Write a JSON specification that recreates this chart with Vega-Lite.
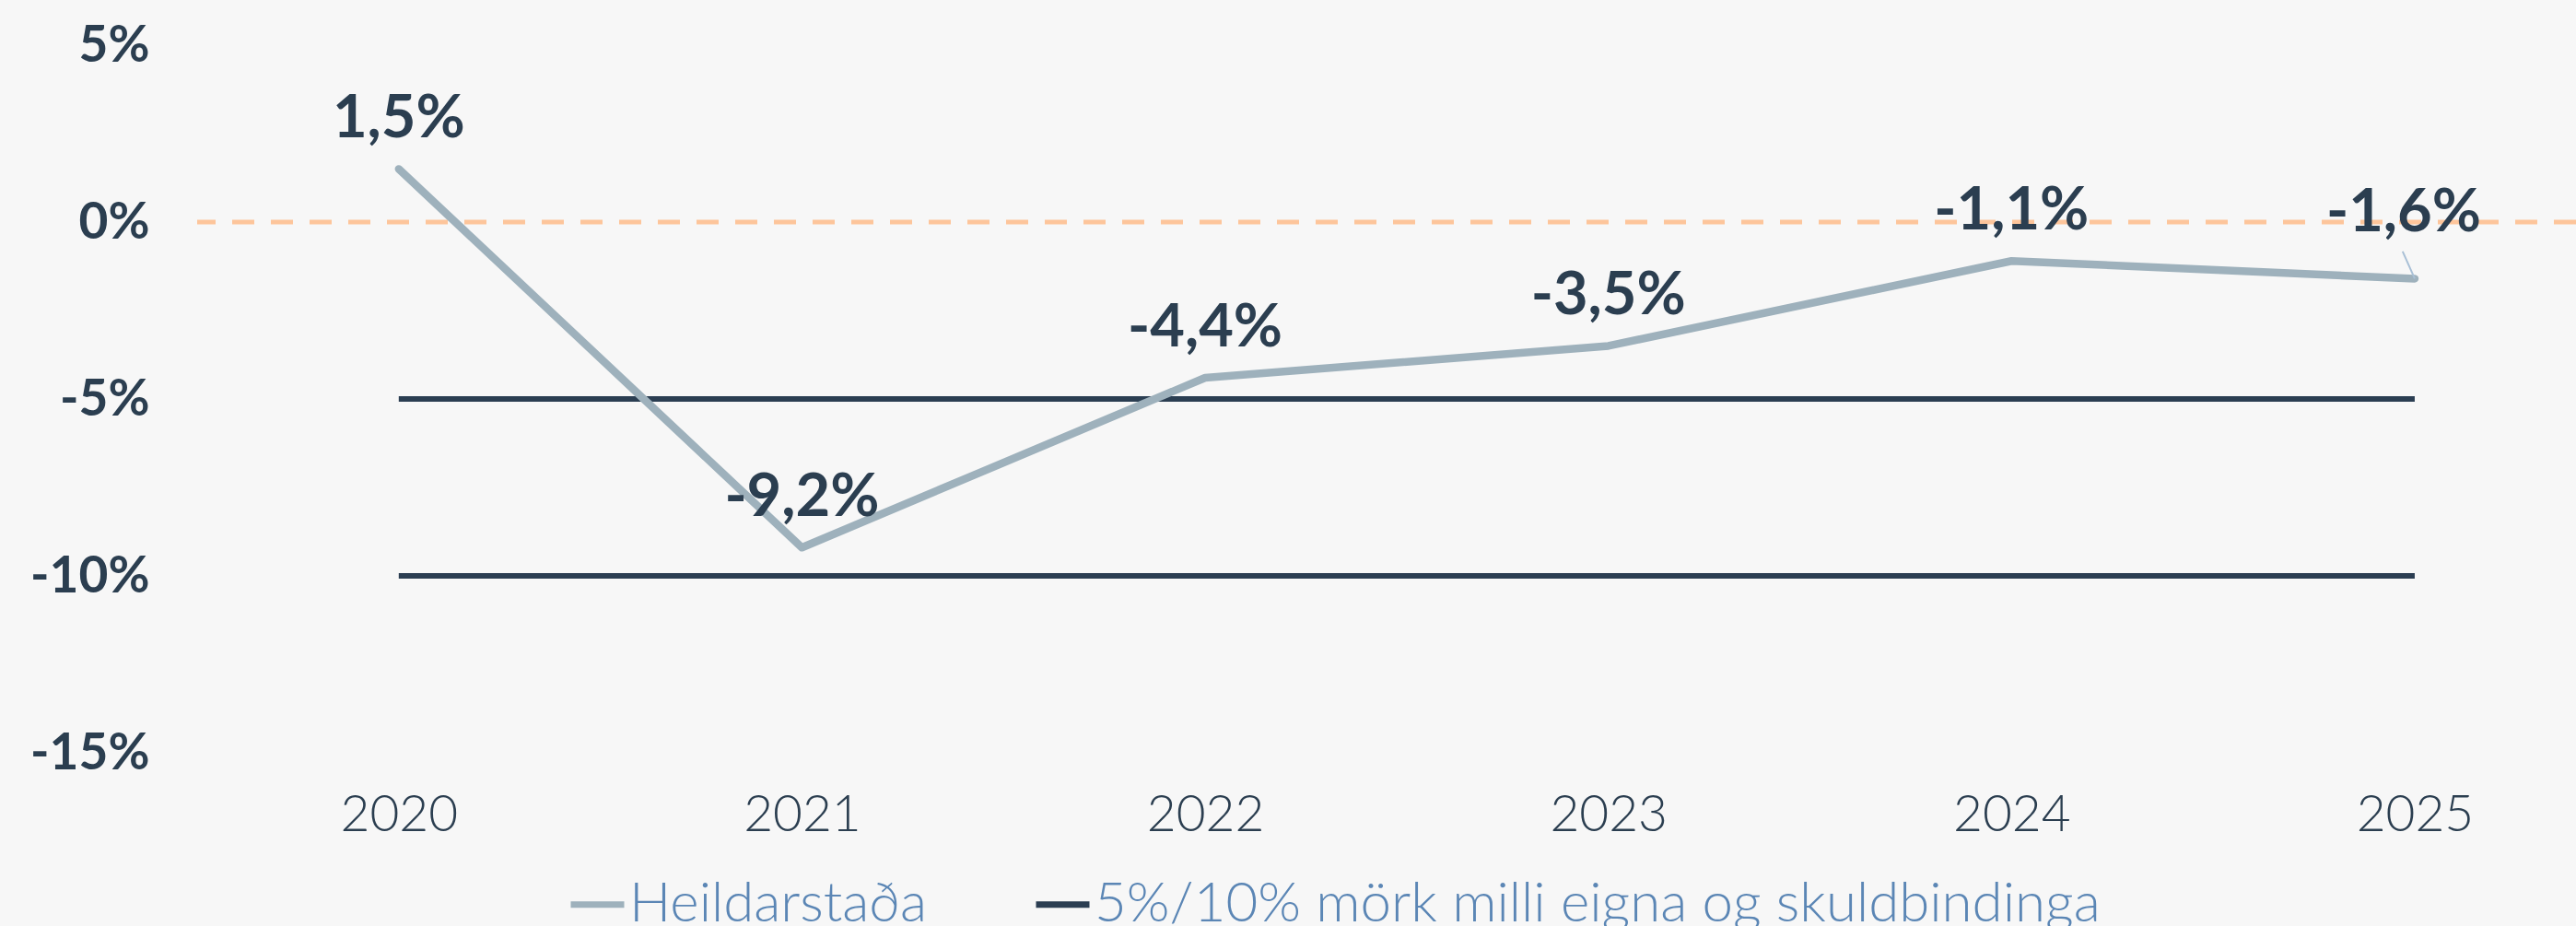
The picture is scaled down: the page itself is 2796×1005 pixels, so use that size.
{
  "$schema": "https://vega.github.io/schema/vega-lite/v6.json",
  "width": 2582,
  "height": 768,
  "autosize": {"type": "none"},
  "padding": {"left": 214, "top": 49, "right": 0, "bottom": 188},
  "background": "#f7f7f7",
  "config": {
    "view": {"stroke": null},
    "font": "Lato",
    "axis": {"grid": false, "domain": false, "ticks": false, "labelColor": "#2b3e50"},
    "axisX": {"labelFontSize": 55, "labelFontWeight": 300, "labelPadding": 41},
    "axisY": {"labelFontSize": 55, "labelFontWeight": "bold", "labelPadding": 52},
    "legend": {
      "orient": "none",
      "legendX": 402,
      "legendY": 900,
      "direction": "horizontal",
      "symbolType": "stroke",
      "symbolSize": 3364,
      "symbolStrokeWidth": 7,
      "labelFontSize": 60,
      "labelFontWeight": 300,
      "labelColor": "#5b86b5",
      "labelOffset": 2,
      "columnPadding": 104,
      "padding": 0,
      "labelLimit": 2000
    }
  },
  "datasets": {
    "main": [
      {"year": 2020, "value": 1.5, "label": "1,5%", "series": "Heildarstaða"},
      {"year": 2021, "value": -9.2, "label": "-9,2%", "series": "Heildarstaða"},
      {"year": 2022, "value": -4.4, "label": "-4,4%", "series": "Heildarstaða"},
      {"year": 2023, "value": -3.5, "label": "-3,5%", "series": "Heildarstaða"},
      {"year": 2024, "value": -1.1, "label": "-1,1%", "series": "Heildarstaða"},
      {"year": 2025, "value": -1.6, "label": "-1,6%", "series": "Heildarstaða"}
    ],
    "bounds": [
      {"year": 2020, "value": -5, "level": "5%", "series": "5%/10% mörk milli eigna og skuldbindinga"},
      {"year": 2025, "value": -5, "level": "5%", "series": "5%/10% mörk milli eigna og skuldbindinga"},
      {"year": 2020, "value": -10, "level": "10%", "series": "5%/10% mörk milli eigna og skuldbindinga"},
      {"year": 2025, "value": -10, "level": "10%", "series": "5%/10% mörk milli eigna og skuldbindinga"}
    ],
    "zero": [{"value": 0}],
    "leader": [{"xa": 2024.97, "ya": -0.83, "xb": 2025, "yb": -1.6}]
  },
  "layer": [
    {
      "data": {"name": "zero"},
      "mark": {"type": "rule", "color": "#fdc59b", "strokeWidth": 5, "strokeDash": [24, 18]},
      "encoding": {
        "y": {"field": "value", "type": "quantitative", "title": null,
              "scale": {"domain": [-15, 5], "nice": false, "zero": false},
              "axis": {"values": [-15, -10, -5, 0, 5], "labelExpr": "datum.value + '%'"}}
      }
    },
    {
      "data": {"name": "bounds"},
      "mark": {"type": "line", "strokeWidth": 6},
      "encoding": {
        "x": {"field": "year", "type": "quantitative", "title": null,
              "scale": {"domain": [2019.5, 2025.4], "nice": false, "zero": false},
              "axis": {"values": [2020, 2021, 2022, 2023, 2024, 2025], "format": "d"}},
        "y": {"field": "value", "type": "quantitative", "title": null},
        "detail": {"field": "level"},
        "color": {"field": "series", "type": "nominal", "title": null,
                  "scale": {"domain": ["Heildarstaða", "5%/10% mörk milli eigna og skuldbindinga"], "range": ["#9eb1bc", "#2b3e52"]}}
      }
    },
    {
      "data": {"name": "main"},
      "mark": {"type": "line", "strokeWidth": 8.5, "strokeCap": "round", "strokeJoin": "round"},
      "encoding": {
        "x": {"field": "year", "type": "quantitative", "title": null},
        "y": {"field": "value", "type": "quantitative", "title": null},
        "color": {"field": "series", "type": "nominal", "title": null}
      }
    },
    {
      "data": {"name": "leader"},
      "mark": {"type": "rule", "color": "#a9c0d6", "strokeWidth": 2},
      "encoding": {
        "x": {"field": "xa", "type": "quantitative", "title": null},
        "y": {"field": "ya", "type": "quantitative", "title": null},
        "x2": {"field": "xb"},
        "y2": {"field": "yb"}
      }
    },
    {
      "data": {"name": "main"},
      "transform": [{"filter": "datum.year != 2025"}],
      "mark": {"type": "text", "fontSize": 65, "fontWeight": "bold", "color": "#2b3e50", "dy": -54, "baseline": "middle", "align": "center"},
      "encoding": {
        "x": {"field": "year", "type": "quantitative", "title": null},
        "y": {"field": "value", "type": "quantitative", "title": null},
        "text": {"field": "label"}
      }
    },
    {
      "data": {"name": "main"},
      "transform": [{"filter": "datum.year == 2025"}],
      "mark": {"type": "text", "fontSize": 65, "fontWeight": "bold", "color": "#2b3e50", "dy": -71, "dx": -12, "baseline": "middle", "align": "center"},
      "encoding": {
        "x": {"field": "year", "type": "quantitative", "title": null},
        "y": {"field": "value", "type": "quantitative", "title": null},
        "text": {"field": "label"}
      }
    }
  ]
}
